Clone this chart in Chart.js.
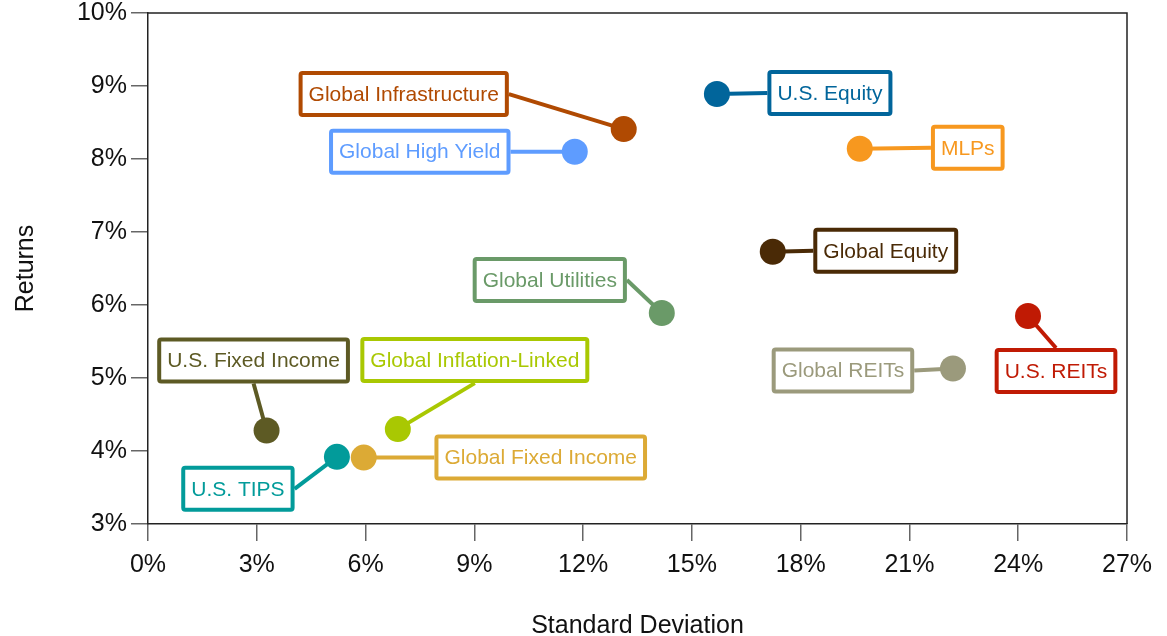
<!DOCTYPE html>
<html>
<head>
<meta charset="utf-8">
<script src="https://cdn.jsdelivr.net/npm/chart.js@4/dist/chart.umd.min.js"></script>
<style>
  body { margin: 0; background: #fff; }
  #wrap { width: 1167px; height: 636px; }
</style>
</head>
<body>
<div id="wrap"><canvas id="risk-chart"></canvas></div>
<script>
const assetNames = [
  'U.S. Equity', 'Global Infrastructure', 'Global High Yield', 'MLPs',
  'Global Equity', 'Global Utilities', 'U.S. REITs', 'Global REITs',
  'U.S. Fixed Income', 'Global Inflation-Linked', 'Global Fixed Income', 'U.S. TIPS'
];
const stdDev = [15.69, 13.12, 11.77, 19.63, 17.23, 14.17, 24.27, 22.20, 3.27, 6.89, 5.95, 5.21];
const returns = [8.89, 8.41, 8.10, 8.14, 6.73, 5.89, 5.85, 5.13, 4.28, 4.30, 3.91, 3.92];
const xTicks = [0, 3, 6, 9, 12, 15, 18, 21, 24, 27];
const yTicks = [3, 4, 5, 6, 7, 8, 9, 10];

const colors = [
  '#01659b', '#b04a02', '#5e9cff', '#f7981f',
  '#4a2a06', '#6a9a68', '#c01a04', '#9b9a7c',
  '#5d5a24', '#a9c802', '#dcaa35', '#029b9a'
];
// label box offset from its point (px) and the side the leader line meets
const labelLayout = [
  { dx: 113, dy: -1, side: 'left' },
  { dx: -220, dy: -35, side: 'right' },
  { dx: -155, dy: 0, side: 'right' },
  { dx: 108, dy: -1, side: 'left' },
  { dx: 113, dy: -1, side: 'left' },
  { dx: -112, dy: -33, side: 'right' },
  { dx: 28, dy: 55, side: 'top' },
  { dx: -110, dy: 2, side: 'right' },
  { dx: -13, dy: -70, side: 'bottom' },
  { dx: 77, dy: -69, side: 'bottom' },
  { dx: 177, dy: 0, side: 'left' },
  { dx: -99, dy: 32, side: 'right' }
];

const FONT = '"Liberation Sans", Arial, sans-serif';

const labelBoxes = {
  id: 'labelBoxes',
  beforeDatasetsDraw(chart) {
    const ctx = chart.ctx;
    const meta = chart.getDatasetMeta(0);
    ctx.save();
    ctx.font = '21px ' + FONT;
    meta.data.forEach((pt, i) => {
      const lay = labelLayout[i];
      const w = ctx.measureText(assetNames[i]).width + 20;
      const h = 46;
      const cx = pt.x + lay.dx;
      const cy = pt.y + lay.dy;
      let ax = cx, ay = cy;
      if (lay.side === 'left') ax = cx - w / 2;
      if (lay.side === 'right') ax = cx + w / 2;
      if (lay.side === 'top') ay = cy - h / 2;
      if (lay.side === 'bottom') ay = cy + h / 2;

      ctx.strokeStyle = colors[i];
      ctx.lineWidth = 4;
      ctx.beginPath();
      ctx.moveTo(pt.x, pt.y);
      ctx.lineTo(ax, ay);
      ctx.stroke();

      ctx.fillStyle = '#fff';
      ctx.beginPath();
      ctx.roundRect(cx - w / 2 + 2, cy - h / 2 + 2, w - 4, h - 4, 2);
      ctx.fill();
      ctx.lineJoin = 'round';
      ctx.stroke();

      ctx.fillStyle = colors[i];
      ctx.textAlign = 'center';
      ctx.textBaseline = 'middle';
      ctx.fillText(assetNames[i], cx, cy + 1);
    });
    ctx.restore();
  }
};

const frameBox = {
  id: 'frameBox',
  afterDraw(chart) {
    const a = chart.chartArea;
    const ctx = chart.ctx;
    ctx.save();
    ctx.strokeStyle = '#222';
    ctx.lineWidth = 1.5;
    ctx.beginPath();
    ctx.moveTo(a.left, a.top);
    ctx.lineTo(a.right, a.top);
    ctx.lineTo(a.right, a.bottom);
    ctx.stroke();
    ctx.restore();
  }
};

new Chart(document.getElementById('risk-chart'), {
  type: 'scatter',
  data: {
    datasets: [{
      data: stdDev.map((x, i) => ({ x: x, y: returns[i] })),
      backgroundColor: colors,
      pointRadius: 13,
      pointBorderWidth: 0,
      pointHoverRadius: 13
    }]
  },
  plugins: [labelBoxes, frameBox],
  options: {
    responsive: true,
    maintainAspectRatio: false,
    animation: false,
    layout: { padding: { top: 13, right: 40, left: 0, bottom: 0 } },
    plugins: { legend: { display: false }, tooltip: { enabled: false } },
    scales: {
      x: {
        type: 'linear',
        min: xTicks[0],
        max: xTicks[xTicks.length - 1],
        afterBuildTicks: s => { s.ticks = xTicks.map(v => ({ value: v })); },
        afterFit: s => { s.height = 112; s.paddingLeft = 0; s.paddingRight = 0; },
        ticks: {
          callback: v => v + '%',
          color: '#111',
          font: { family: FONT, size: 25 },
          padding: 9,
          maxRotation: 0
        },
        grid: { drawOnChartArea: false, tickLength: 17, color: '#666', lineWidth: 1.5 },
        border: { color: '#222', width: 1.5 },
        title: {
          display: true,
          text: 'Standard Deviation',
          color: '#111',
          font: { family: FONT, size: 25, lineHeight: 0.8 },
          padding: { top: 0, bottom: 0 }
        }
      },
      y: {
        min: yTicks[0],
        max: yTicks[yTicks.length - 1],
        afterBuildTicks: s => { s.ticks = yTicks.map(v => ({ value: v })); },
        afterFit: s => { s.width = 148; s.paddingTop = 0; s.paddingBottom = 0; },
        ticks: {
          callback: v => v + '%',
          color: '#111',
          font: { family: FONT, size: 25 },
          padding: 4
        },
        grid: { drawOnChartArea: false, tickLength: 17, color: '#666', lineWidth: 1.5 },
        border: { color: '#222', width: 1.5 },
        title: {
          display: true,
          text: 'Returns',
          color: '#111',
          font: { family: FONT, size: 25, lineHeight: 1 },
          padding: { top: 14, bottom: 0 }
        }
      }
    }
  }
});
</script>
</body>
</html>
